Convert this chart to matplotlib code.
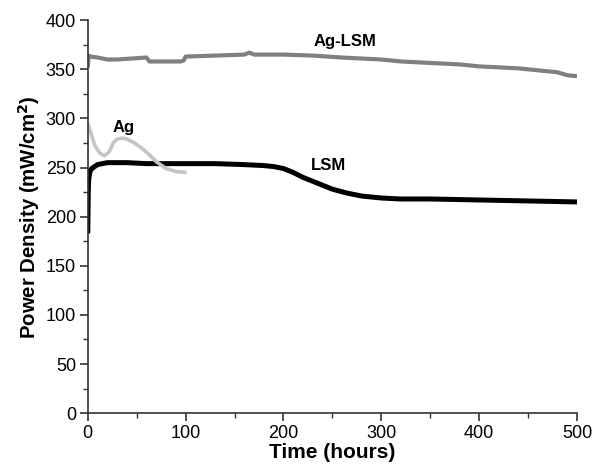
import numpy as np
import matplotlib.pyplot as plt
from matplotlib.ticker import MultipleLocator

plt.rcParams['font.family'] = ['Liberation Sans', 'DejaVu Sans']

# Ag-LSM cathode
t_aglsm = [0, 1, 3, 10, 20, 30, 45, 60, 63, 80, 95, 98, 100, 130, 160, 165, 170,
           200, 230, 260, 280, 300, 320, 340, 360, 380, 400, 420, 440, 460, 480, 490, 500]
p_aglsm = [352, 364, 363, 362, 360, 360, 361, 362, 358, 358, 358, 359, 363, 364, 365, 367, 365,
           365, 364, 362, 361, 360, 358, 357, 356, 355, 353, 352, 351, 349, 347, 344, 343]

# LSM cathode
t_lsm = [0, 0.5, 1, 2, 4, 7, 10, 20, 40, 60, 80, 100, 130, 160, 180, 190, 200, 210,
         220, 230, 240, 250, 265, 280, 300, 320, 350, 400, 450, 500]
p_lsm = [183, 225, 238, 245, 249, 251, 253, 255, 255, 254, 254, 254, 254, 253, 252, 251, 249, 245,
         240, 236, 232, 228, 224, 221, 219, 218, 218, 217, 216, 215]

# Ag cathode
t_ag = [0, 3, 7, 12, 17, 22, 26, 30, 35, 40, 46, 55, 63, 70, 80, 90, 101]
p_ag = [295, 286, 273, 265, 262, 266, 275, 279, 280, 279, 276, 270, 263, 256, 249, 246, 245]

fig = plt.figure(figsize=(5.93, 4.70), dpi=100)
ax = fig.add_axes([0.148, 0.121, 0.825, 0.836])

ax.plot(t_aglsm, p_aglsm, color='#808080', lw=3.0, solid_capstyle='butt')
ax.plot(t_lsm, p_lsm, color='black', lw=3.6, solid_capstyle='butt')
ax.plot(t_ag, p_ag, color='#c4c4c4', lw=2.6, solid_capstyle='butt')

ax.text(263, 378, 'Ag-LSM', fontsize=12, fontweight='bold', ha='center', va='center')
ax.text(246, 252, 'LSM', fontsize=12, fontweight='bold', ha='center', va='center')
ax.text(37, 291, 'Ag', fontsize=12, fontweight='bold', ha='center', va='center')

ax.set_xlim(0, 500)
ax.set_ylim(0, 400)
ax.xaxis.set_major_locator(MultipleLocator(100))
ax.xaxis.set_minor_locator(MultipleLocator(50))
ax.yaxis.set_major_locator(MultipleLocator(50))
ax.yaxis.set_minor_locator(MultipleLocator(25))
ax.spines['top'].set_visible(False)
ax.spines['right'].set_visible(False)
for s in ('left', 'bottom'):
    ax.spines[s].set_linewidth(1.2)
    ax.spines[s].set_color('#333333')
ax.tick_params(which='major', direction='out', length=5.5, width=1.2, labelsize=13,
               color='#333333', pad=3)
ax.tick_params(which='minor', direction='out', length=3.5, width=1.0, color='#333333')

ax.set_xlabel('Time (hours)', fontsize=15, fontweight='bold', labelpad=1)
ax.set_ylabel('Power Density (mW/cm$^\\mathbf{2}$)', fontsize=14.7, fontweight='bold', labelpad=3)

fig.savefig('out.png', dpi=100)
